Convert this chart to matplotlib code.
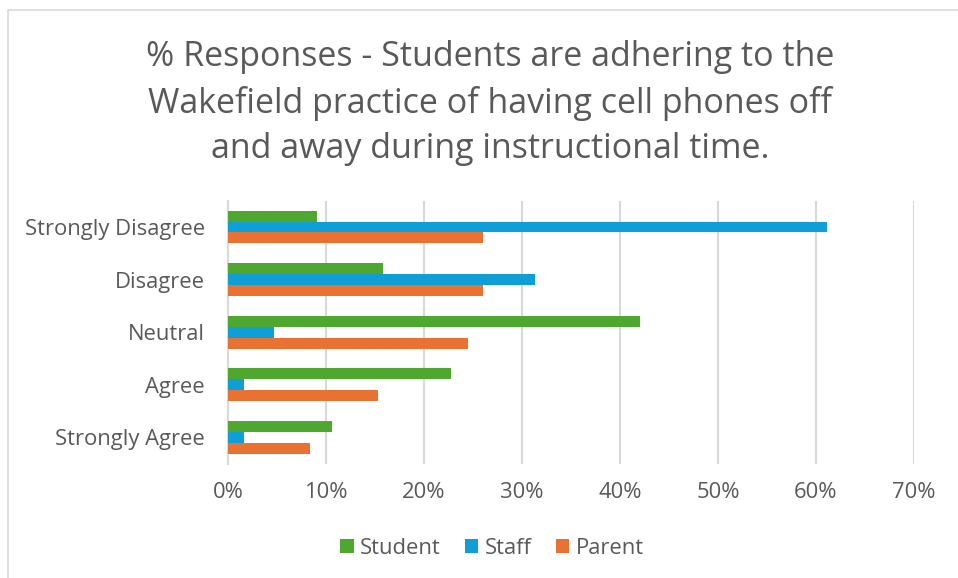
import matplotlib.pyplot as plt
import numpy as np
from matplotlib.patches import Rectangle
from matplotlib.ticker import FuncFormatter

# Survey responses (% of each group)
categorias = ["Strongly Disagree", "Disagree", "Neutral", "Agree", "Strongly Agree"]
student = [9.1, 15.8, 42.0, 22.8, 10.6]
staff = [61.1, 31.3, 4.7, 1.6, 1.6]
parent = [26.0, 26.0, 24.5, 15.3, 8.4]

series = ["Student", "Staff", "Parent"]
colores = ["#4EA72E", "#0F9ED5", "#E97132"]
gris_texto = "#595959"

plt.rcParams['font.family'] = ['Open Sans', 'DejaVu Sans']

fig = plt.figure(figsize=(9.58, 5.78), dpi=100)
fig.patch.set_facecolor('white')

# borde del area del grafico
fig.patches.append(Rectangle((8 / 958, -0.1), 1.2, 1 - 10 / 578 + 0.1,
                             transform=fig.transFigure, fill=False,
                             edgecolor='#D9D9D9', linewidth=1.2))

ax = fig.add_axes([228 / 958, 1 - 463.7 / 578, 686 / 958, 263 / 578])

y = np.arange(len(categorias))
alto = 0.207
for i, (nombre, vals, col) in enumerate(zip(series, [student, staff, parent], colores)):
    ax.barh(y + (i - 1) * alto, vals, height=alto, color=col, label=nombre, zorder=3)

ax.set_ylim(-0.5, len(categorias) - 0.5)
ax.invert_yaxis()
ax.set_xlim(0, 70)
ax.set_xticks(range(0, 71, 10))
ax.xaxis.set_major_formatter(FuncFormatter(lambda v, _: f"{int(v)}%"))
ax.set_yticks(y)
ax.set_yticklabels(categorias)

ax.xaxis.grid(True, color='#D9D9D9', linewidth=1.5, zorder=0)
for lado in ['top', 'right', 'bottom']:
    ax.spines[lado].set_visible(False)
ax.spines['left'].set_color('#D9D9D9')
ax.spines['left'].set_linewidth(1.5)
ax.tick_params(axis='both', length=0, colors=gris_texto, labelsize=15.8)
ax.tick_params(axis='x', pad=13)
ax.tick_params(axis='y', pad=16.5)

fig.text(490 / 958, 1 - 103 / 578,
         "% Responses - Students are adhering to the\n"
         "Wakefield practice of having cell phones off\n"
         "and away during instructional time.",
         ha='center', va='center', fontsize=24.5, color=gris_texto, linespacing=1.45)

fig.legend(loc='center', bbox_to_anchor=(492 / 958, 1 - 548 / 578), ncol=3,
           frameon=False, fontsize=15.8, labelcolor=gris_texto,
           handlelength=0.6, handleheight=0.6, handletextpad=0.3, columnspacing=1.1)

fig.savefig("out.png", dpi=100)
